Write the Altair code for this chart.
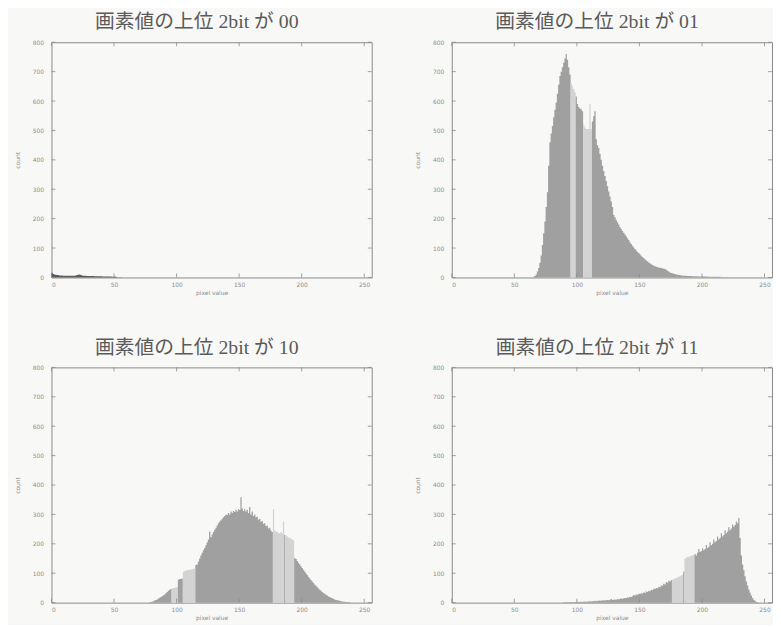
import altair as alt
import pandas as pd

TITLES = ["画素値の上位 2bit が 00", "画素値の上位 2bit が 01",
          "画素値の上位 2bit が 10", "画素値の上位 2bit が 11"]

X_TICKS = [0, 50, 100, 150, 200, 250]
Y_TICKS = [0, 100, 200, 300, 400, 500, 600, 700, 800]

# panel "00": counts for pixel values starting at 0
START_00 = 0
COUNTS_00 = [16, 12, 10, 9, 8, 8, 7, 7, 7, 6,
             6, 6, 6, 6, 6, 6, 6, 6, 6, 7,
             8, 9, 10, 8, 7, 6, 6, 6, 5, 5,
             5, 5, 5, 5, 4, 4, 4, 4, 4, 4,
             4, 3, 3, 3, 3, 3, 3, 3, 2, 2,
             3, 2, 1, 1, 1, 1]
LIGHT_00 = []

# panel "01": counts for pixel values starting at 65
START_01 = 65
COUNTS_01 = [2, 5, 10, 20, 32,                                   # 65-69
             50, 75, 110, 150, 190, 240, 290, 380, 460, 490,     # 70-79
             515, 545, 570, 595, 625, 655, 685, 700, 715, 730,   # 80-89
             745, 760, 740, 715, 690, 660, 650, 640, 630, 615,   # 90-99
             590, 580, 575, 572, 565, 520, 510, 505, 505, 505,   # 100-109
             590, 505, 530, 548, 565, 470, 450, 440, 420, 400,   # 110-119
             380, 362, 345, 328, 310, 292, 275, 258, 240, 212,   # 120-129
             205, 195, 188, 180, 172, 165, 158, 152, 146, 140,   # 130-139
             133, 127, 120, 114, 108, 102, 97, 92, 87, 83,       # 140-149
             79, 74, 70, 66, 62, 58, 55, 51, 48, 45,             # 150-159
             42, 40, 38, 36, 35, 34, 33, 32, 31, 30,             # 160-169
             29, 26, 23, 20, 17, 15, 14, 13, 12, 10,             # 170-179
             9, 8, 8, 7, 7, 6, 6, 6, 5, 5,                       # 180-189
             5, 5, 4, 4, 4, 4, 4, 3, 3, 3,                       # 190-199
             4, 3, 3, 3, 3, 2, 2, 2, 2, 2,                       # 200-209
             2, 2, 2, 2, 2, 1, 1, 1, 1, 1, 1]                    # 210-220
LIGHT_01 = [95, 96, 97, 98, 105, 106, 107, 108, 109, 110, 111]

# panel "10": counts for pixel values starting at 78
START_10 = 78
COUNTS_10 = [1, 2, 3, 5, 7, 9, 11, 14, 17, 19,                   # 78-87
             22, 25, 28, 32, 36, 40, 44, 46,                     # 88-95
             48, 50, 50, 52, 52,                                 # 96-100
             78, 80, 80, 82,                                     # 101-104
             105, 107, 109, 110, 111, 112, 113, 114, 115, 116,   # 105-114
             128, 130, 140, 150, 160, 170, 178, 186, 195, 205, 215,  # 115-125
             242,                                                # 126
             222, 232, 240, 248, 255, 262, 270, 276, 280, 285, 290, 295, 300,  # 127-139
             298, 305, 300, 310, 305, 312, 308, 316, 310, 318, 315,  # 140-150
             358,                                                # 151
             320, 312, 318, 310, 316, 305, 325, 300, 310, 295,   # 152-161
             300, 290, 292, 282, 285, 275, 278, 268, 270, 260,   # 162-171
             262, 252, 255, 245, 240,                            # 172-176
             318, 245, 242, 240, 238, 236, 240, 235, 275,        # 177-185
             230,                                                # 186
             228, 225, 222, 220, 218, 215, 212,                  # 187-193
             152, 148, 142, 136, 130, 124, 118, 112, 106, 100,   # 194-203
             94, 88, 82, 77, 72, 67, 62, 57, 52, 48,             # 204-213
             44, 40, 36, 33, 30, 27, 24, 21, 19, 17,             # 214-223
             15, 13, 11, 9, 8, 7, 6, 5, 4, 3,                    # 224-233
             3, 2, 2, 1, 1]                                      # 234-238
LIGHT_10 = [96, 97, 98, 99, 100,
            105, 106, 107, 108, 109, 110, 111, 112, 113, 114,
            177, 178, 179, 180, 181, 182, 183, 184, 185,
            187, 188, 189, 190, 191, 192, 193]

# panel "11": counts for pixel values starting at 88
START_11 = 88
COUNTS_11 = [0, 1, 1, 1, 1, 1, 2, 1, 2, 1,                       # 88-97
             2, 2, 3, 2, 3, 2, 3, 3, 4, 3,                       # 98-107
             4, 4, 5, 4, 5, 5, 6, 5, 6, 6,                       # 108-117
             7, 6, 8, 7, 8, 8, 9, 8, 10, 12,                     # 118-127
             9, 10, 11, 10, 12, 11, 13, 14, 13, 15,              # 128-137
             16, 15, 18, 17, 20, 19, 22, 26, 24, 28,             # 138-147
             27, 30, 29, 32, 31, 35, 33, 38, 36, 40,             # 148-157
             39, 44, 42, 47, 46, 50, 49, 54, 52, 58,             # 158-167
             57, 64, 62, 70, 68, 74, 72, 77,                     # 168-175
             78, 80, 82, 84, 86, 88, 90, 92, 95,                 # 176-184
             106,                                                # 185
             150, 152, 155, 156, 158, 160, 160, 162,             # 186-193
             165, 160, 170, 182, 172, 176, 185, 178, 182, 196,   # 194-203
             186, 190, 205, 195, 200, 215, 205, 210, 225, 215,   # 204-213
             220, 236, 225, 230, 246, 236, 242, 256, 246, 252,   # 214-223
             266, 258, 264, 276, 270, 288,                       # 224-229
             220, 160, 130, 110, 90, 72, 58, 45, 34, 24,         # 230-239
             16, 10, 6, 3, 1, 0]                                 # 240-245
LIGHT_11 = [176, 177, 178, 179, 180, 181, 182, 183, 184,
            186, 187, 188, 189, 190, 191, 192, 193]

# shade name used for the ordinary bars of each panel
PANELS = [
    (TITLES[0], START_00, COUNTS_00, LIGHT_00, "black"),
    (TITLES[1], START_01, COUNTS_01, LIGHT_01, "dark"),
    (TITLES[2], START_10, COUNTS_10, LIGHT_10, "dark"),
    (TITLES[3], START_11, COUNTS_11, LIGHT_11, "dark"),
]
SHADES = ["black", "dark", "light"]
SHADE_COLORS = ["#5c5c5c", "#a0a0a0", "#d3d3d3"]

W, H = 324, 238
FRAME = "#8a8a8a"
LABEL = "#8c8c8c"
BG = "#f8f8f7"


def step_rows(start, counts, light, base):
    """Histogram outline: one step-after run per block of equally shaded bins."""
    rows = []
    run = 0
    prev = None
    for i, c in enumerate(counts):
        v = start + i
        shade = "light" if v in light else base
        if shade != prev:
            if prev is not None:
                rows.append({"v": v, "count": counts[i - 1], "shade": prev, "run": run})
            run += 1
            prev = shade
        rows.append({"v": v, "count": c, "shade": shade, "run": run})
    rows.append({"v": start + len(counts), "count": counts[-1], "shade": prev, "run": run})
    return pd.DataFrame(rows)


def panel(title, start, counts, light, base):
    df = step_rows(start, counts, light, base)
    xs = alt.Scale(domain=[0, 256], nice=False, zero=False)
    ys = alt.Scale(domain=[0, 800], nice=False)
    ax_x = alt.Axis(values=X_TICKS, title="pixel value", ticks=False,
                    labelPadding=4, titlePadding=2, domain=False, grid=False,
                    labelOverlap=False)
    ax_y = alt.Axis(values=Y_TICKS, title="count", ticks=False,
                    labelPadding=8, titlePadding=12, domain=False, grid=False,
                    labelOverlap=False)
    bars = alt.Chart(df).mark_area(interpolate="step-after", strokeWidth=0).encode(
        x=alt.X("v:Q", scale=xs, axis=ax_x),
        y=alt.Y("count:Q", scale=ys, axis=ax_y, stack=None),
        detail="run:N",
        color=alt.Color("shade:N", legend=None,
                        scale=alt.Scale(domain=SHADES, range=SHADE_COLORS)),
    )
    xt = pd.DataFrame({"t": X_TICKS})
    yt = pd.DataFrame({"t": Y_TICKS})
    tick_style = dict(color=FRAME, strokeWidth=0.8)
    xb = alt.Chart(xt).mark_rule(**tick_style).encode(
        x=alt.X("t:Q", scale=xs, axis=ax_x), y=alt.value(H), y2=alt.value(H - 4))
    xtop = alt.Chart(xt).mark_rule(**tick_style).encode(
        x=alt.X("t:Q", scale=xs, axis=ax_x), y=alt.value(0), y2=alt.value(4))
    yl = alt.Chart(yt).mark_rule(**tick_style).encode(
        y=alt.Y("t:Q", scale=ys, axis=ax_y), x=alt.value(0), x2=alt.value(4))
    yr = alt.Chart(yt).mark_rule(**tick_style).encode(
        y=alt.Y("t:Q", scale=ys, axis=ax_y), x=alt.value(W), x2=alt.value(W - 4))
    return alt.layer(bars, xb, xtop, yl, yr).properties(
        width=W, height=H,
        title=alt.TitleParams(title, fontSize=20, font="Liberation Serif, Noto Sans CJK JP",
                              fontWeight="normal", color="#5a5a5a", offset=7, dx=-15),
    )


chart = alt.concat(
    *[panel(*p) for p in PANELS],
    columns=2,
    spacing={"row": 91, "column": 81},
    bounds="flush",
).properties(
    background=BG,
    padding={"left": 6, "top": 0, "right": 0, "bottom": 0},
).configure_view(
    stroke=FRAME, strokeWidth=1, fill=BG
).configure_axis(
    labelFontSize=6, labelColor=LABEL, titleFontSize=6, titleColor=LABEL,
    titleFontWeight="normal", labelFont="DejaVu Sans", titleFont="DejaVu Sans",
)

chart.save("out.html", embed_options={"renderer": "svg", "actions": False})
